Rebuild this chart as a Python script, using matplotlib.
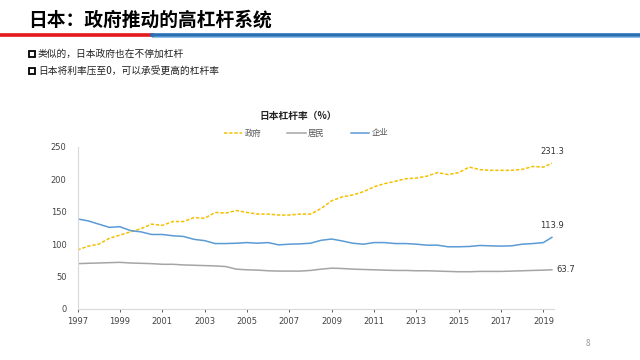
"""Japan leverage ratio slide: government / household / corporate, 1997-2019."""

import matplotlib

matplotlib.use("Agg")
import matplotlib.pyplot as plt
from matplotlib.lines import Line2D
from matplotlib.patches import Rectangle

plt.rcParams["font.family"] = ["Noto Sans CJK SC", "DejaVu Sans"]

# half-year sample points, last one is mid-2019
years = [1997 + 0.5 * i for i in range(45)] + [2019.4]

gov = [91, 97, 100, 109, 114, 119, 124, 131, 129, 135, 135, 141, 140, 149,
       148, 152, 149, 146.5, 146.5, 145, 145, 146.5, 146.5, 155, 167, 173,
       176, 181, 188.5, 193.5, 197, 201, 202, 205, 210.5, 207.5, 210.5, 219,
       215, 214, 214, 214, 215.5, 220, 219, 225]
household = [70, 70.5, 71, 71.5, 72, 71, 70.5, 70, 69, 69, 68, 67.5, 67, 66.5,
             65.5, 61.5, 60.5, 60, 59, 58.5, 58.5, 58.5, 59.5, 61.5, 63, 62.5,
             61.5, 61, 60.5, 60, 59.5, 59.5, 59, 59, 58.5, 58, 57.5, 57.5, 58,
             58, 58, 58.5, 59, 59.5, 60, 60.5]
corp = [139, 136, 131, 126, 127, 121, 119, 115, 115, 113, 112, 107.5, 105.5,
        101, 101, 101.5, 102.5, 101.5, 102.5, 99, 100, 100.5, 101.5, 106, 108,
        105, 101.5, 100, 102.5, 102.5, 101, 101, 100, 98.5, 98.5, 96, 96, 96.5,
        98, 97.5, 97, 97.5, 100, 101, 102.5, 110.6]

end_labels = ["231.3", "63.7", "113.9"]
series_names = ["政府", "居民", "企业"]
colors = ["#F5C000", "#A5A5A5", "#5B9BD5"]
styles = [(0, (2.2, 1.2)), "-", "-"]

fig = plt.figure(figsize=(6.4, 3.6), dpi=100)

# slide header
fig.text(28 / 640, 1 - 20 / 360, "日本：政府推动的高杠杆系统", fontsize=13.5,
         fontweight="bold", color="black", va="center", ha="left")
fig.add_artist(Line2D([0, 152 / 640], [1 - 35 / 360] * 2, color="#E3191E", lw=2.6))
fig.add_artist(Line2D([152 / 640, 1], [1 - 35 / 360] * 2, color="#2A6EB3", lw=2.6))
fig.add_artist(Line2D([152 / 640, 1], [1 - 36.8 / 360] * 2, color="#8FC3EA", lw=0.8))

bullets = ["类似的，日本政府也在不停加杠杆", "日本将利率压至0，可以承受更高的杠杆率"]
for i, txt in enumerate(bullets):
    yc = 1 - (54 + 17 * i) / 360
    fig.add_artist(Rectangle((28.5 / 640, yc - 3 / 360), 6 / 640, 6 / 360,
                             facecolor="white", edgecolor="black", lw=1.3))
    fig.text(38 / 640, yc, txt, fontsize=7, color="#222222", va="center")

fig.text(588 / 640, 1 - 343 / 360, "8", fontsize=6, color="#999999", ha="center", va="center")

# chart
ax = fig.add_axes([77.5 / 640, 1 - 309 / 360, (554 - 77.5) / 640, (309 - 147) / 360])
for vals, name, c, ls in zip([gov, household, corp], series_names, colors, styles):
    ax.plot(years, vals, color=c, lw=1.1, ls=ls, label=name)

offsets = [(0, 5), (3, 0), (0, 5)]
for vals, lab, off in zip([gov, household, corp], end_labels, offsets):
    ax.annotate(lab, (years[-1], vals[-1]), xytext=off, textcoords="offset points",
                ha="center" if off[0] == 0 else "left", va="bottom" if off[1] else "center",
                fontsize=6, color="#333333", family=["DejaVu Sans"])

ax.set_xlim(1997, 2019.5)
ax.set_ylim(0, 250)
ax.set_xticks(range(1997, 2020, 2))
ax.set_yticks(range(0, 251, 50))
ax.tick_params(labelsize=6, colors="#444444", length=2, width=0.6)
ax.tick_params(axis="y", length=0, pad=8)
for lbl in ax.get_xticklabels() + ax.get_yticklabels():
    lbl.set_family(["DejaVu Sans"])
for side in ("top", "right"):
    ax.spines[side].set_visible(False)
for side in ("left", "bottom"):
    ax.spines[side].set_color("#D9D9D9")
    ax.spines[side].set_linewidth(0.8)

fig.text(298 / 640, 1 - 116 / 360, "日本杠杆率（%）", fontsize=7, fontweight="bold",
         ha="center", va="center", color="#222222")
fig.legend(loc="center", bbox_to_anchor=(306 / 640, 1 - 133 / 360), ncol=3,
           frameon=False, fontsize=6, handlelength=2.2, columnspacing=3.1,
           handletextpad=0.3, labelcolor="#555555")

fig.savefig("out.png", dpi=100)
